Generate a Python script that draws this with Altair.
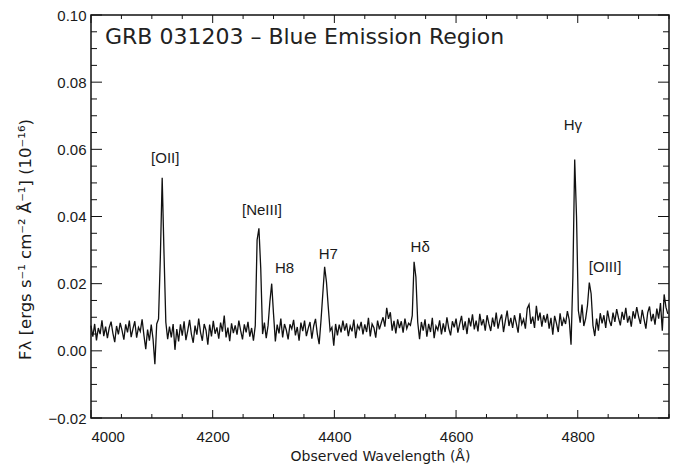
import altair as alt
import pandas as pd

# Spectrum sampled on a regular 3 Å grid starting at 4000 Å.
WL_START = 4000.0
WL_STEP = 3.0

# Flux density in units of 1e-3 (x 1e-16 ergs s^-1 cm^-2 Å^-1), one row per 30 Å.
flux_milli = [
    7.5, 4.2, 8.0, 3.1, 6.8, 5.0, 9.1, 4.4, 7.2, 3.8,        # 4000
    6.9, 8.7, 5.2, 2.6, 7.4, 4.9, 8.3, 6.1, 3.3, 7.9,        # 4030
    5.5, 9.0, 4.1, 6.6, 8.8, 3.9, 7.0, 5.8, 9.4, 4.6,        # 4060
    0.5, 6.3, 3.0, 7.8, 3.5, -4.0, 8.0, 9.5, 28.0, 51.5,     # 4090
    29.0, 8.5, 3.5, 7.2, 4.0, 8.0, 0.3, 6.5, 2.8, 7.9,       # 4120
    4.5, 8.8, 3.2, 6.0, 9.2, 5.0, 2.4, 7.5, 4.8, 9.6,        # 4150
    5.5, 3.0, 8.0, 6.2, 1.8, 7.8, 4.3, 8.9, 5.1, 7.0,        # 4180
    3.6, 8.4, 5.7, 10.5, 4.0, 6.9, 2.9, 8.2, 5.3, 7.6,       # 4210
    4.8, 9.0, 6.0, 3.4, 7.9, 5.5, 8.6, 4.2, 6.8, 3.0,        # 4240
    7.5, 33.0, 36.5, 24.5, 5.0, 8.4, 3.8, 7.5, 14.6, 20.0,   # 4270
    11.0, 2.8, 7.8, 5.2, 9.6, 4.0, 8.0, 6.2, 3.4, 7.9,       # 4300
    6.5, 9.2, 4.6, 7.1, 3.0, 8.4, 5.9, 9.0, 4.4, 6.7,        # 4330
    8.6, 3.6, 7.4, 9.5, 5.0, 2.0, 9.0, 17.0, 25.0, 20.5,     # 4360
    13.0, 6.0, 7.0, 1.5, 8.0, 4.6, 7.8, 5.5, 9.0, 6.0,       # 4390
    8.2, 4.4, 7.4, 5.8, 9.3, 3.8, 7.6, 6.4, 8.6, 4.9,        # 4420
    7.9, 5.6, 9.8, 4.3, 8.0, 6.9, 3.9, 9.0, 6.4, 8.3,        # 4450
    10.0, 7.2, 12.8, 9.5, 11.5, 6.0, 8.9, 5.2, 9.4, 6.8,     # 4480
    8.8, 5.4, 9.6, 6.6, 8.2, 7.6, 10.5, 26.5, 22.0, 8.5,     # 4510
    3.5, 8.6, 6.0, 9.4, 4.2, 8.0, 5.6, 9.8, 3.8, 7.4,        # 4540
    6.2, 9.1, 4.9, 8.2, 5.6, 10.0, 6.7, 4.6, 8.8, 7.0,       # 4570
    9.6, 5.4, 8.0, 10.4, 6.2, 8.8, 5.0, 9.8, 7.3, 10.9,      # 4600
    6.4, 9.0, 5.8, 11.0, 7.6, 9.4, 6.0, 10.6, 8.0, 5.9,      # 4630
    9.9, 7.2, 11.4, 6.6, 9.2, 10.8, 5.6, 8.9, 12.0, 7.4,     # 4660
    9.8, 6.8, 10.6, 8.2, 5.4, 11.2, 7.9, 9.4, 6.6, 12.6,     # 4690
    13.8, 8.0, 10.2, 6.8, 13.4, 9.0, 11.4, 7.2, 10.6, 8.4,   # 4720
    11.0, 6.6, 9.8, 4.8, 10.4, 8.2, 5.6, 11.2, 7.4, 9.6,     # 4750
    8.0, 11.8, 9.2, 1.8, 22.0, 57.0, 40.0, 12.0, 8.4, 13.8,  # 4780
    7.4, 9.6, 13.5, 20.3, 17.0, 7.6, 4.4, 9.6, 6.0, 11.2,    # 4810
    8.2, 10.6, 6.8, 12.0, 9.0, 7.4, 11.4, 8.6, 12.4, 9.8,    # 4840
    7.6, 11.6, 9.2, 12.8, 8.4, 10.4, 7.2, 11.8, 9.6, 13.0,   # 4870
    10.2, 8.0, 12.2, 9.4, 6.6, 11.4, 13.2, 8.8, 11.0, 7.8,   # 4900
    12.6, 9.6, 14.2, 6.0, 16.8, 13.0, 11.0,                  # 4930
]

wavelength = [WL_START + WL_STEP * i for i in range(len(flux_milli))]
flux = [f / 1000.0 for f in flux_milli]

# Emission-line identifications and where their labels sit (data coordinates)
line_names = ["[OII]", "[NeIII]", "H8", "H7", "Hδ", "Hγ", "[OIII]"]
label_wl = [4122, 4281, 4318, 4390, 4541, 4792, 4845]
label_flux = [0.0574, 0.0419, 0.0247, 0.0288, 0.0309, 0.0672, 0.0250]

# Axis tick values
x_major = [4000, 4200, 4400, 4600, 4800]
x_minor = [v for v in range(4050, 4951, 50) if v not in x_major]
y_major = [-0.02, 0.0, 0.02, 0.04, 0.06, 0.08, 0.10]
y_minor = [round(-0.015 + 0.005 * k, 3) for k in range(23)]
y_minor = [v for v in y_minor if all(abs(v - m) > 1e-6 for m in y_major)]

W, H = 578, 403
FONT = "Liberation Sans"
WIDE_FONT = "DejaVu Sans"
INK = "#1a1a1a"

spec = pd.DataFrame({"wavelength": wavelength, "flux": flux})
labels = pd.DataFrame({"name": line_names, "wavelength": label_wl, "flux": label_flux})

xscale = alt.Scale(domain=[4000, 4950], nice=False, zero=False)
yscale = alt.Scale(domain=[-0.02, 0.10], nice=False, zero=False)

spectrum = alt.Chart(spec).mark_line(color="#111", strokeWidth=1.3, interpolate="linear").encode(
    x=alt.X("wavelength:Q", scale=xscale,
            axis=alt.Axis(orient="bottom", values=x_major, format="d", ticks=False, tickSize=0,
                          domain=False, grid=False, labelFontSize=15, labelPadding=11,
                          labelColor=INK, labelFont=FONT,
                          title="Observed Wavelength (Å)", titleFont=WIDE_FONT, titleFontSize=14,
                          titleFontWeight="normal", titleColor=INK, titleY=42,
                          titleBaseline="alphabetic")),
    y=alt.Y("flux:Q", scale=yscale,
            axis=alt.Axis(orient="left", values=y_major, format=".2f", ticks=False, tickSize=0,
                          domain=False, grid=False, labelFontSize=15, labelPadding=5,
                          labelColor=INK, labelFont=FONT,
                          title="Fλ [ergs s⁻¹ cm⁻² Å⁻¹] (10⁻¹⁶)", titleFont=WIDE_FONT,
                          titleFontSize=16.5, titleFontWeight="normal", titleColor=INK,
                          titleAngle=270, titleX=-66, titleY=224, titleBaseline="middle",
                          titleAlign="center")),
)


def x_ticks(values, length, at_top):
    """Inward-pointing wavelength ticks along the bottom or top frame edge."""
    edge = 0 if at_top else H
    tip = length if at_top else H - length
    return alt.Chart(pd.DataFrame({"v": values})).mark_rule(color="#111", strokeWidth=1).encode(
        x=alt.X("v:Q", scale=xscale, axis=None),
        y=alt.value(edge), y2=alt.value(tip),
    )


def y_ticks(values, length, at_right):
    """Inward-pointing flux ticks along the left or right frame edge."""
    edge = W if at_right else 0
    tip = W - length if at_right else length
    return alt.Chart(pd.DataFrame({"v": values})).mark_rule(color="#111", strokeWidth=1).encode(
        y=alt.Y("v:Q", scale=yscale, axis=None),
        x=alt.value(edge), x2=alt.value(tip),
    )


tick_layers = [
    x_ticks(x_major, 8, False), x_ticks(x_minor, 4, False),
    x_ticks(x_major, 8, True), x_ticks(x_minor, 4, True),
    y_ticks(y_major, 11, False), y_ticks(y_minor, 6, False),
    y_ticks(y_major, 11, True), y_ticks(y_minor, 6, True),
]

line_labels = alt.Chart(labels).mark_text(
    font=FONT, fontSize=15, color=INK, align="center", baseline="middle"
).encode(
    x=alt.X("wavelength:Q", scale=xscale, axis=None),
    y=alt.Y("flux:Q", scale=yscale, axis=None),
    text="name:N",
)

title = alt.Chart(pd.DataFrame({"t": ["GRB 031203 – Blue Emission Region"]})).mark_text(
    font=WIDE_FONT, fontSize=22, color="#222", align="left", baseline="middle"
).encode(x=alt.value(14), y=alt.value(22), text="t:N")

chart = (
    alt.layer(spectrum, *tick_layers, line_labels, title)
    .resolve_axis(x="independent", y="independent")
    .properties(
        width=W, height=H,
        autosize=alt.AutoSizeParams(type="none"),
        padding={"left": 91, "top": 15, "right": 14, "bottom": 50},
        background="white",
    )
    .configure_view(stroke="#111", strokeWidth=1.5)
)

chart.save("out.html", embed_options={"renderer": "svg", "actions": False})
